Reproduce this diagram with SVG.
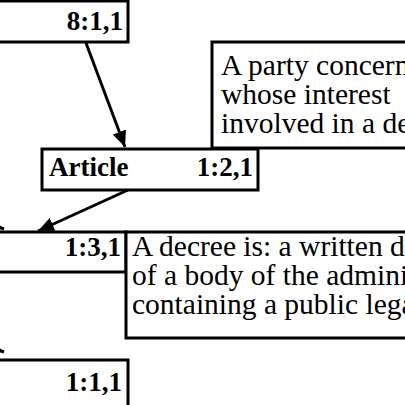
<svg xmlns="http://www.w3.org/2000/svg" width="405" height="405" viewBox="0 0 405 405">
<defs>
<marker id="ah" markerUnits="userSpaceOnUse" markerWidth="18" markerHeight="14" refX="16" refY="7" orient="auto">
<path d="M0,0 L16,7 L0,14 Z" fill="#000"/>
</marker>
<style>
.box{fill:#fff;stroke:#000;stroke-width:3}
.b{font-family:"Liberation Serif","Times New Roman",serif;font-weight:bold;font-size:27px;fill:#000}
.r{font-family:"Liberation Serif","Times New Roman",serif;font-size:29.5px;fill:#000}
.c{stroke:#000;stroke-width:3;fill:none}
</style>
</defs>
<rect width="405" height="405" fill="#fff"/>
<g id="connectors">
<line class="c" x1="86" y1="43" x2="125" y2="147" marker-end="url(#ah)"/>
<line class="c" x1="128" y1="190" x2="38" y2="231" marker-end="url(#ah)"/>
<line class="c" x1="-40" y1="214" x2="4" y2="229" marker-end="url(#ah)"/>
<line class="c" x1="-40" y1="336" x2="4" y2="352" marker-end="url(#ah)"/>
</g>
<g id="n8_1_1">
<rect class="box" x="-10" y="1" width="138" height="41"/>
<text class="b" x="123" y="30" text-anchor="end">8:1,1</text>
</g>
<g id="party">
<rect class="box" x="212" y="42" width="220" height="106"/>
<text class="r" x="221" y="75">A party concerned</text>
<text class="r" x="221" y="104">whose interest</text>
<text class="r" x="221" y="133">involved in a decree</text>
</g>
<g id="n1_2_1">
<rect class="box" x="42" y="149" width="216" height="41"/>
<text class="b" x="49" y="176">Article</text>
<text class="b" x="253" y="176" text-anchor="end">1:2,1</text>
</g>
<g id="n1_3_1">
<rect class="box" x="-10" y="232" width="136" height="40"/>
<text class="b" x="121" y="256" text-anchor="end">1:3,1</text>
</g>
<g id="decree">
<rect class="box" x="126" y="232" width="300" height="106"/>
<text class="r" x="132" y="256">A decree is: a written decision</text>
<text class="r" x="132" y="285">of a body of the administration</text>
<text class="r" x="132" y="314">containing a public legal act</text>
</g>
<g id="n1_1_1">
<rect class="box" x="-10" y="360" width="138" height="60"/>
<text class="b" x="122" y="391" text-anchor="end">1:1,1</text>
</g>
</svg>
